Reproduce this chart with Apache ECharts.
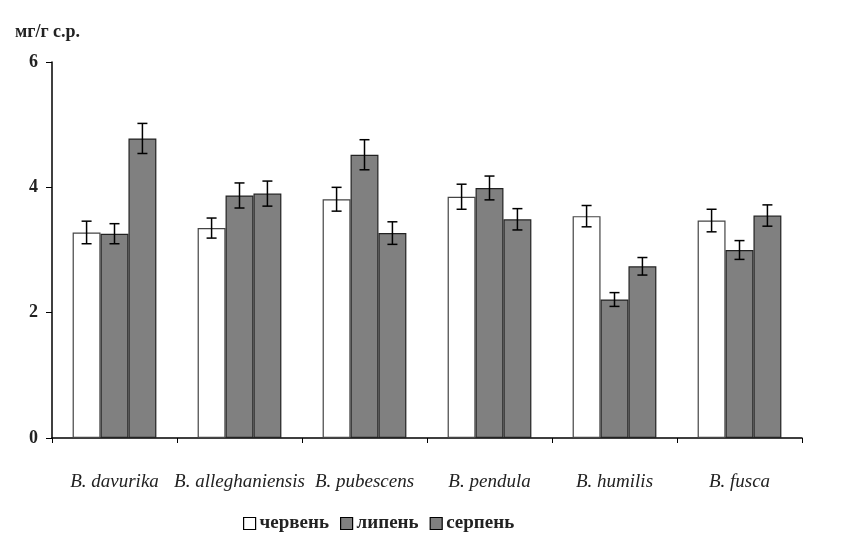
<!DOCTYPE html>
<html>
<head>
<meta charset="utf-8">
<script src="https://cdn.jsdelivr.net/npm/echarts@6/dist/echarts.min.js"></script>
<style>
  html, body { margin: 0; padding: 0; background: #fff; }
  #chart { width: 867px; height: 538px; }
</style>
</head>
<body>
<div id="chart"></div>
<script>
var myChart = echarts.init(document.getElementById('chart'));

// data
const categories = ['B. davurika', 'B. alleghaniensis', 'B. pubescens', 'B. pendula', 'B. humilis', 'B. fusca'];
const seriesNames = ['червень', 'липень', 'серпень'];
const june = [3.28, 3.35, 3.81, 3.85, 3.54, 3.47];
const july = [3.26, 3.87, 4.52, 3.99, 2.21, 3.00];
const august = [4.78, 3.90, 3.27, 3.49, 2.74, 3.55];
const juneErr = [0.18, 0.16, 0.19, 0.20, 0.17, 0.18];
const julyErr = [0.16, 0.20, 0.24, 0.19, 0.11, 0.15];
const augustErr = [0.24, 0.20, 0.18, 0.17, 0.14, 0.17];
const yTicks = [0, 2, 4, 6];

const values = [june, july, august];
const errors = [juneErr, julyErr, augustErr];
const barGapRatio = 0.33;

const font = '"Liberation Serif", "DejaVu Serif", serif';

// error bar data: [category, low, high, series index]
let errData = [];
values.forEach((vals, s) => {
    vals.forEach((v, i) => {
        errData.push([i, v - errors[s][i], v + errors[s][i], s]);
    });
});

const renderError = (params, api) => {
    const band = api.size([1, 0])[0];
    const barW = band * (1 - barGapRatio) / 3;
    const s = api.value(3);
    const center = api.coord([api.value(0), 0])[0] + (s - 1) * barW;
    const low = api.coord([api.value(0), api.value(1)])[1];
    const high = api.coord([api.value(0), api.value(2)])[1];
    const half = 5;
    const style = { stroke: '#000', lineWidth: 1.5 };
    return {
        type: 'group',
        children: [
            { type: 'line', shape: { x1: center, y1: low, x2: center, y2: high }, style: style },
            { type: 'line', shape: { x1: center - half, y1: low, x2: center + half, y2: low }, style: style },
            { type: 'line', shape: { x1: center - half, y1: high, x2: center + half, y2: high }, style: style }
        ]
    };
};

const colors = ['#ffffff', '#808080', '#808080'];

let option = {
    animation: false,
    backgroundColor: '#fff',
    title: {
        text: 'мг/г с.р.',
        left: 10,
        top: 18,
        textStyle: { fontFamily: font, fontSize: 18, fontWeight: 'bold', color: '#222' }
    },
    legend: {
        data: seriesNames.map((n, i) => ({
            name: n,
            itemStyle: { color: colors[i], borderColor: '#000', borderWidth: 1.2 }
        })),
        left: 238,
        top: 509,
        itemWidth: 12,
        itemHeight: 12,
        itemGap: 11,
        icon: 'rect',
        textStyle: { fontFamily: font, fontSize: 19, fontWeight: 'bold', color: '#222', padding: [0, 0, 0, -1] }
    },
    grid: {
        left: 52,
        right: 65,
        top: 62,
        bottom: 100
    },
    xAxis: {
        type: 'category',
        data: categories,
        axisLine: { lineStyle: { color: '#000', width: 1.5 } },
        axisTick: { show: true, interval: 0, length: 5, inside: false, lineStyle: { color: '#000' } },
        axisLabel: {
            interval: 0,
            hideOverlap: false,
            margin: 34,
            fontFamily: font,
            fontSize: 19,
            fontStyle: 'italic',
            color: '#222'
        }
    },
    yAxis: {
        type: 'value',
        min: 0,
        max: 6,
        interval: 2,
        axisLine: { show: true, lineStyle: { color: '#000', width: 1.5 } },
        axisTick: { show: true, length: 6, lineStyle: { color: '#000' } },
        splitLine: { show: false },
        axisLabel: {
            margin: 14,
            fontFamily: font,
            fontSize: 18,
            fontWeight: 'bold',
            color: '#222',
            formatter: v => yTicks.indexOf(v) >= 0 ? String(v) : ''
        }
    },
    series: values.map((vals, i) => ({
        name: seriesNames[i],
        type: 'bar',
        data: vals,
        barGap: '0%',
        barCategoryGap: (barGapRatio * 100) + '%',
        itemStyle: { color: colors[i], borderColor: i === 0 ? '#444' : '#222', borderWidth: 1.2 }
    })).concat([{
        type: 'custom',
        name: 'err',
        renderItem: renderError,
        data: errData,
        encode: { x: 0, y: [1, 2] },
        z: 10
    }])
};

myChart.setOption(option, true);
</script>
</body>
</html>
